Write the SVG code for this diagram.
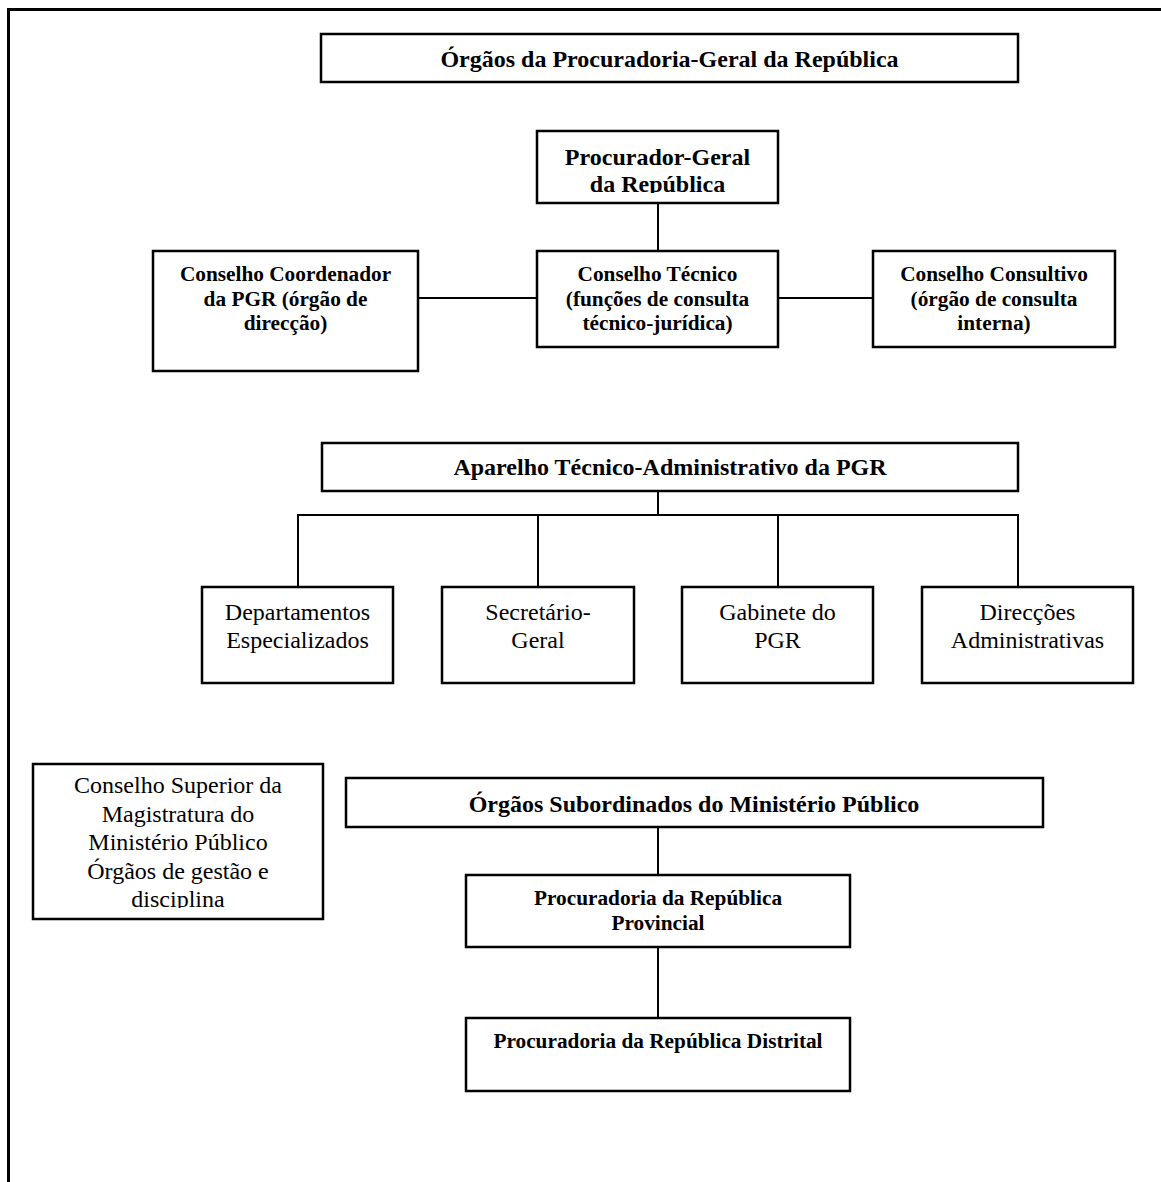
<svg xmlns="http://www.w3.org/2000/svg" width="1161" height="1182" viewBox="0 0 1161 1182">
<defs>
<style>
.box{fill:#fff;stroke:#000;stroke-width:2.5}
.ln{fill:none;stroke:#000;stroke-width:2}
.b{font-family:"Liberation Serif","Times New Roman",serif;font-weight:bold;text-anchor:middle;fill:#000}
.r{font-family:"Liberation Serif","Times New Roman",serif;text-anchor:middle;fill:#000;font-size:24px}
.s24{font-size:24px}
.s21{font-size:21.3px}
</style>
<clipPath id="clipPG"><rect x="537" y="131" width="241" height="62"/></clipPath>
<clipPath id="clipCS"><rect x="33" y="764" width="290" height="144"/></clipPath>
</defs>
<rect width="1161" height="1182" fill="#fff"/>
<g id="frame"><path d="M8.5 1182 V9.5 H1161" fill="none" stroke="#000" stroke-width="3"/></g>

<g id="connectors">
<line class="ln" x1="658" y1="203" x2="658" y2="251"/>
<line class="ln" x1="418" y1="298" x2="537" y2="298"/>
<line class="ln" x1="778" y1="298" x2="873" y2="298"/>
<line class="ln" x1="658" y1="491" x2="658" y2="515"/>
<path class="ln" d="M298 587 V515 H1018 V587"/>
<line class="ln" x1="538" y1="515" x2="538" y2="587"/>
<line class="ln" x1="778" y1="515" x2="778" y2="587"/>
<line class="ln" x1="658" y1="827" x2="658" y2="875"/>
<line class="ln" x1="658" y1="947" x2="658" y2="1018"/>
</g>

<g id="title">
<rect class="box" x="321" y="34" width="697" height="48"/>
<text class="b s24" x="669.5" y="67">Órgãos da Procuradoria-Geral da República</text>
</g>

<g id="procurador-geral">
<rect class="box" x="537" y="131" width="241" height="72"/>
<g clip-path="url(#clipPG)">
<text class="b s24" x="657.5" y="165">Procurador-Geral</text>
<text class="b s24" x="657.5" y="192">da República</text>
</g>
</g>

<g id="conselho-coordenador">
<rect class="box" x="153" y="251" width="265" height="120"/>
<text class="b s21" x="285.5" y="281">Conselho Coordenador</text>
<text class="b s21" x="285.5" y="305.5">da PGR (órgão de</text>
<text class="b s21" x="285.5" y="330">direcção)</text>
</g>

<g id="conselho-tecnico">
<rect class="box" x="537" y="251" width="241" height="96"/>
<text class="b s21" x="657.5" y="281">Conselho Técnico</text>
<text class="b s21" x="657.5" y="305.5">(funções de consulta</text>
<text class="b s21" x="657.5" y="330">técnico-jurídica)</text>
</g>

<g id="conselho-consultivo">
<rect class="box" x="873" y="251" width="242" height="96"/>
<text class="b s21" x="994" y="281">Conselho Consultivo</text>
<text class="b s21" x="994" y="305.5">(órgão de consulta</text>
<text class="b s21" x="994" y="330">interna)</text>
</g>

<g id="aparelho">
<rect class="box" x="322" y="443" width="696" height="48"/>
<text class="b s24" x="670" y="475">Aparelho Técnico-Administrativo da PGR</text>
</g>

<g id="departamentos">
<rect class="box" x="202" y="587" width="191" height="96"/>
<text class="r" x="297.5" y="620">Departamentos</text>
<text class="r" x="297.5" y="648">Especializados</text>
</g>

<g id="secretario">
<rect class="box" x="442" y="587" width="192" height="96"/>
<text class="r" x="538" y="620">Secretário-</text>
<text class="r" x="538" y="648">Geral</text>
</g>

<g id="gabinete">
<rect class="box" x="682" y="587" width="191" height="96"/>
<text class="r" x="777.5" y="620">Gabinete do</text>
<text class="r" x="777.5" y="648">PGR</text>
</g>

<g id="direccoes">
<rect class="box" x="922" y="587" width="211" height="96"/>
<text class="r" x="1027.5" y="620">Direcções</text>
<text class="r" x="1027.5" y="648">Administrativas</text>
</g>

<g id="conselho-superior">
<rect class="box" x="33" y="764" width="290" height="155"/>
<g clip-path="url(#clipCS)">
<text class="r" x="178" y="793">Conselho Superior da</text>
<text class="r" x="178" y="821.5">Magistratura do</text>
<text class="r" x="178" y="850">Ministério Público</text>
<text class="r" x="178" y="878.5">Órgãos de gestão e</text>
<text class="r" x="178" y="907">disciplina</text>
</g>
</g>

<g id="orgaos-subordinados">
<rect class="box" x="346" y="778" width="697" height="49"/>
<text class="b s24" x="694" y="812">Órgãos Subordinados do Ministério Público</text>
</g>

<g id="procuradoria-provincial">
<rect class="box" x="466" y="875" width="384" height="72"/>
<text class="b s21" x="658" y="904.5">Procuradoria da República</text>
<text class="b s21" x="658" y="929.5">Provincial</text>
</g>

<g id="procuradoria-distrital">
<rect class="box" x="466" y="1018" width="384" height="73"/>
<text class="b s21" x="658" y="1048">Procuradoria da República Distrital</text>
</g>
</svg>
